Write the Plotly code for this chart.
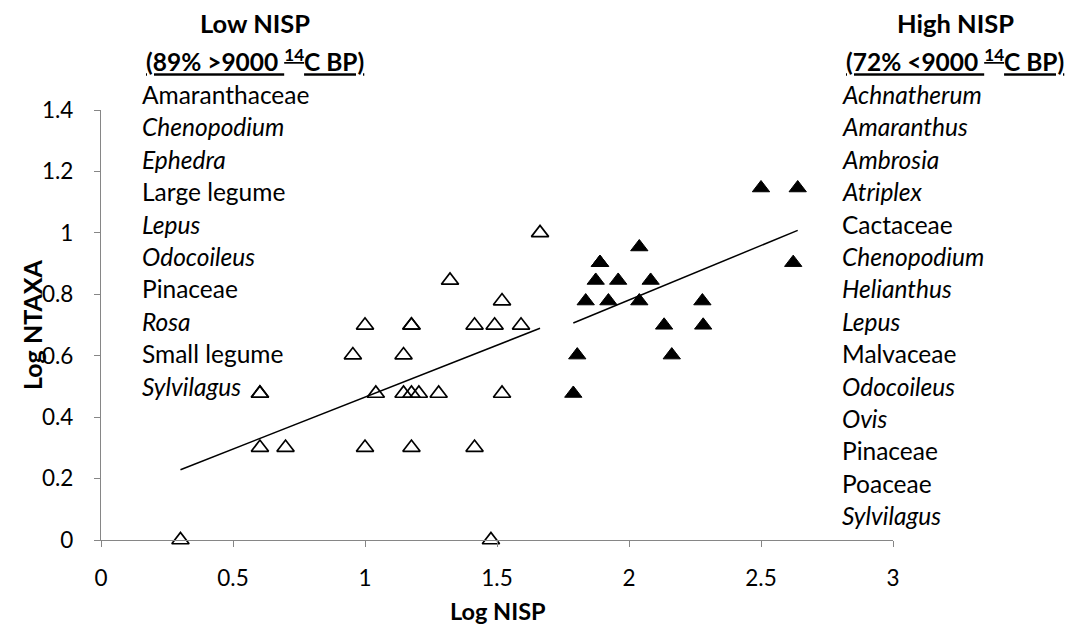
import numpy as np
import plotly.graph_objects as go

# ---------------- data ----------------
low_x = [0.301, 0.602, 0.699, 1.0, 1.176, 1.415, 1.477,
         0.602, 0.602, 1.041, 1.146, 1.176, 1.204, 1.279, 1.519,
         0.954, 1.146,
         1.0, 1.176, 1.176, 1.415, 1.491, 1.591,
         1.519, 1.322, 1.663]
low_y = [0, 0.301, 0.301, 0.301, 0.301, 0.301, 0,
         0.477, 0.477, 0.477, 0.477, 0.477, 0.477, 0.477, 0.477,
         0.602, 0.602,
         0.699, 0.699, 0.699, 0.699, 0.699, 0.699,
         0.778, 0.845, 1.0]

high_x = [1.789, 1.804, 1.836, 1.874, 1.89, 1.89, 1.922, 1.959, 2.039,
          2.039, 2.082, 2.133, 2.162, 2.278, 2.281, 2.5, 2.622, 2.639]
high_y = [0.477, 0.602, 0.778, 0.845, 0.903, 0.903, 0.778, 0.845, 0.954,
          0.778, 0.845, 0.699, 0.602, 0.778, 0.699, 1.146, 0.903, 1.146]

x_ticks = [0, 0.5, 1, 1.5, 2, 2.5, 3]
x_tick_labels = ["0", "0.5", "1", "1.5", "2", "2.5", "3"]
y_ticks = [0, 0.2, 0.4, 0.6, 0.8, 1.0, 1.2, 1.4]
y_tick_labels = ["0", "0.2", "0.4", "0.6", "0.8", "1", "1.2", "1.4"]

low_title = "Low NISP"
low_sub = "(89% >9000 <sup>14</sup>C BP)"
high_title = "High NISP"
high_sub = "(72% <9000 <sup>14</sup>C BP)"

low_taxa = ["Amaranthaceae", "Chenopodium", "Ephedra", "Large legume", "Lepus",
            "Odocoileus", "Pinaceae", "Rosa", "Small legume", "Sylvilagus"]
low_italic = [False, True, True, False, True, True, False, True, False, True]
high_taxa = ["Achnatherum", "Amaranthus", "Ambrosia", "Atriplex", "Cactaceae",
             "Chenopodium", "Helianthus", "Lepus", "Malvaceae", "Odocoileus",
             "Ovis", "Pinaceae", "Poaceae", "Sylvilagus"]
high_italic = [True, True, True, True, False, True, True, True, False, True,
               True, False, False, True]

x_title = "Log NISP"
y_title = "Log NTAXA"

# ---------------- layout geometry ----------------
W, H = 1080, 628
PL, PR, PT, PB = 101, 893, 110, 540  # plot area in pixels
FONT = "Lato"


def px(xp):
    return (xp - PL) / (PR - PL)


def py(yp):
    return (PB - yp) / (PB - PT)


fig = go.Figure()

# trend lines (least-squares fit of each group)
for xs, ys in ((low_x, low_y), (high_x, high_y)):
    xa, ya = np.array(xs), np.array(ys)
    m, b = np.polyfit(xa, ya, 1)
    xl = np.array([xa.min(), xa.max()])
    fig.add_trace(go.Scatter(x=xl, y=m * xl + b, mode="lines",
                             line=dict(color="black", width=1.5),
                             hoverinfo="skip", showlegend=False))

fig.add_trace(go.Scatter(
    x=low_x, y=low_y, mode="markers", showlegend=False, cliponaxis=False,
    marker=dict(symbol="triangle-up-open", size=15, color="black",
                line=dict(width=1.7, color="black"))))
fig.add_trace(go.Scatter(
    x=high_x, y=high_y, mode="markers", showlegend=False, cliponaxis=False,
    marker=dict(symbol="triangle-up", size=15, color="black",
                line=dict(width=1, color="black"))))

ann = []
TXT = 24.5
HDR = 25.5
# group headers
for cx, t1, t2 in ((255, low_title, low_sub), (955, high_title, high_sub)):
    ann.append(dict(x=px(cx), y=py(23), text="<b>%s</b>" % t1, showarrow=False,
                    xref="paper", yref="paper", xanchor="center", yanchor="middle",
                    font=dict(family=FONT, size=HDR, color="black")))
    ann.append(dict(x=px(cx), y=py(60), text="<b>%s</b>" % t2, showarrow=False,
                    xref="paper", yref="paper", xanchor="center", yanchor="middle",
                    font=dict(family=FONT, size=HDR - 1, color="black",
                              lineposition="under")))

# taxa lists
for left, names, ital in ((140, low_taxa, low_italic), (840, high_taxa, high_italic)):
    for i, (n, it) in enumerate(zip(names, ital)):
        ann.append(dict(x=px(left), y=py(94.5 + 32.4 * i),
                        text=("<i>%s</i>" % n) if it else n, showarrow=False,
                        xref="paper", yref="paper", xanchor="left", yanchor="middle",
                        font=dict(family=FONT, size=TXT, color="black")))

# axis titles
ann.append(dict(x=px(498), y=py(611), text="<b>%s</b>" % x_title, showarrow=False,
                xref="paper", yref="paper", xanchor="center", yanchor="middle",
                font=dict(family=FONT, size=23.5, color="black")))
ann.append(dict(x=px(32), y=py(325), text="<b>%s</b>" % y_title, showarrow=False,
                textangle=-90, xref="paper", yref="paper", xanchor="center",
                yanchor="middle", font=dict(family=FONT, size=25, color="black")))

axis_common = dict(showgrid=False, zeroline=False, showline=True,
                   linecolor="#868686", linewidth=1.3, ticks="outside",
                   ticklen=6, tickcolor="#868686", tickwidth=1.3,
                   tickfont=dict(family=FONT, size=22.5, color="black"))

fig.update_layout(
    width=W, height=H,
    margin=dict(l=PL, r=W - PR, t=PT, b=H - PB, pad=0),
    paper_bgcolor="white", plot_bgcolor="white",
    font=dict(family=FONT, color="black"),
    xaxis=dict(range=[0, 3], tickvals=x_ticks, ticktext=x_tick_labels,
               ticklabelstandoff=12, **axis_common),
    yaxis=dict(range=[0, 1.4], tickvals=y_ticks, ticktext=y_tick_labels,
               ticklabelstandoff=16, **axis_common),
    annotations=ann,
)

fig.write_html("out.html")
